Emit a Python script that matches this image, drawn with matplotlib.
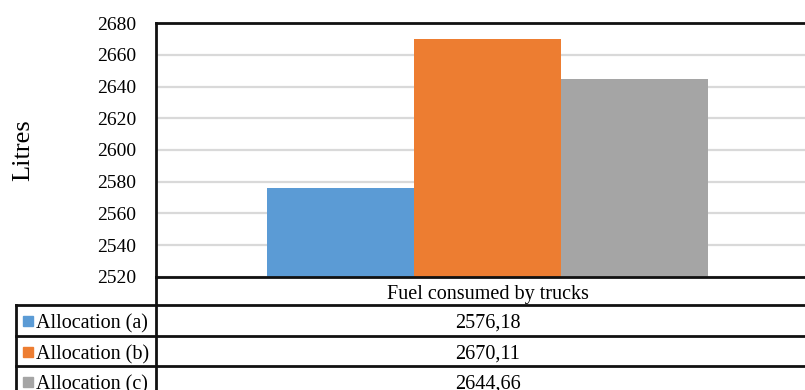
import matplotlib.pyplot as plt
from matplotlib.lines import Line2D
from matplotlib.patches import Rectangle

# fuel consumption per allocation scheme
series = ['Allocation (a)', 'Allocation (b)', 'Allocation (c)']
values = [2576.18, 2670.11, 2644.66]
colors = ['#5B9BD5', '#ED7D31', '#A5A5A5']
category = 'Fuel consumed by trucks'
y_ticks = [2520, 2540, 2560, 2580, 2600, 2620, 2640, 2660, 2680]

W, H = 805, 390
plt.rcParams['font.family'] = ['Liberation Serif', 'DejaVu Serif']


def fx(px):
    return px / W


def fy(py):
    return 1 - py / H


fig = plt.figure(figsize=(W / 100, H / 100), dpi=100)

# plot area runs past the right edge, like the cropped Excel chart
left, top, bottom, right = 156, 23, 277, 819
ax = fig.add_axes([fx(left), fy(bottom), fx(right - left), (bottom - top) / H])

bar_w = 1.0
xs = [-1, 0, 1]
for x, v, c, s in zip(xs, values, colors, series):
    ax.bar(x, v, width=bar_w, color=c, label=s, zorder=2)

span = (right - left) / 147.0
ax.set_xlim(-span / 2, span / 2)
ax.set_ylim(y_ticks[0], y_ticks[-1])
ax.set_yticks(y_ticks)
ax.set_xticks([])
ax.tick_params(axis='y', length=0, pad=14, labelsize=14)
for lbl in ax.get_yticklabels():
    lbl.set_verticalalignment('center_baseline')
ax.yaxis.grid(True, color='#d9d9d9', linewidth=1.6, zorder=0)
ax.set_axisbelow(True)
for side in ['top', 'left', 'bottom']:
    ax.spines[side].set_linewidth(2)
    ax.spines[side].set_color('#111111')
ax.spines['right'].set_visible(False)

fig.text(fx(23), fy(150), 'Litres', rotation=90, ha='center', va='center', fontsize=19)

# data table under the chart
line_kw = dict(color='#111111', linewidth=2, transform=fig.transFigure)
rows_y = [305, 336, 366, 397]
for y in rows_y[:-1]:
    fig.add_artist(Line2D([fx(16), 1], [fy(y), fy(y)], **line_kw))
fig.add_artist(Line2D([fx(16), fx(16)], [fy(305), 0], **line_kw))
fig.add_artist(Line2D([fx(left), fx(left)], [fy(bottom), 0], **line_kw))

center_x = fx((left + right) / 2)
fig.text(center_x, fy(299), category, ha='center', va='baseline', fontsize=14.5)
for i, (s, v, c) in enumerate(zip(series, values, colors)):
    base = rows_y[i] + 23
    fig.add_artist(Rectangle((fx(23), fy(rows_y[i] + 21)), fx(10), 10 / H,
                             color=c, transform=fig.transFigure))
    fig.text(fx(36), fy(base), s, ha='left', va='baseline', fontsize=14.5)
    fig.text(center_x, fy(base), f'{v:.2f}'.replace('.', ','),
             ha='center', va='baseline', fontsize=14.5)

fig.savefig('out.png', dpi=100)
